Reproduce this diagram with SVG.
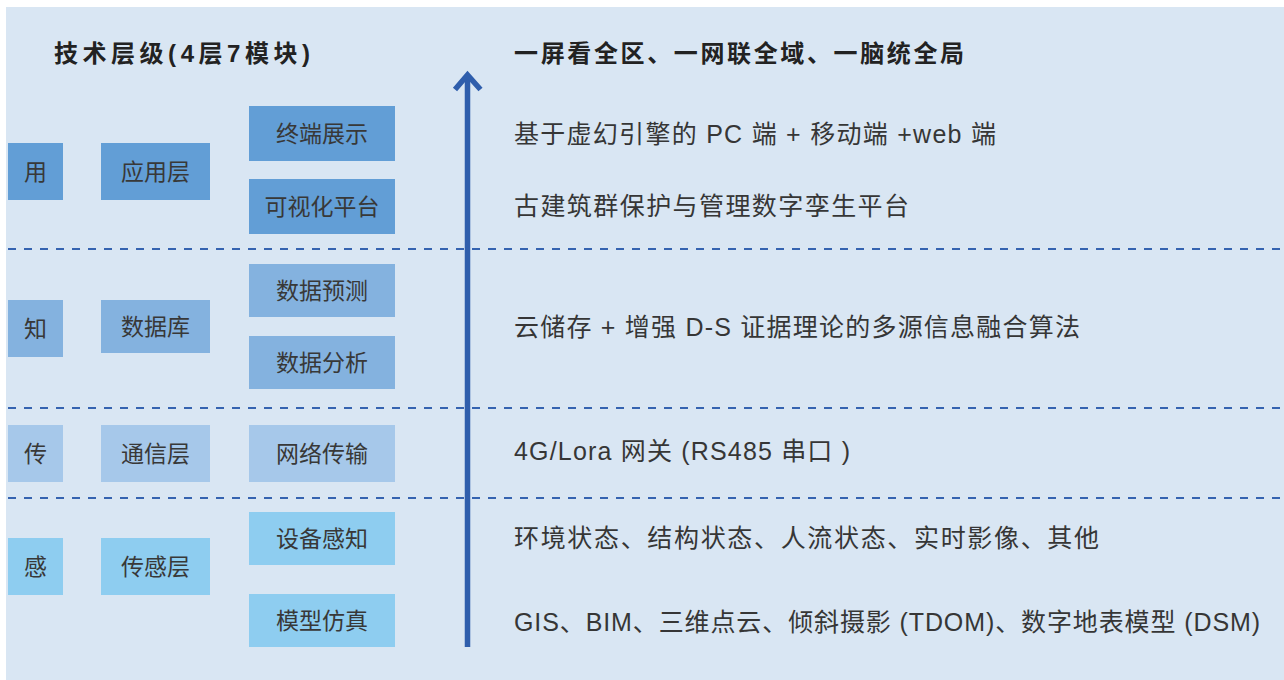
<svg xmlns="http://www.w3.org/2000/svg" width="1284" height="680" viewBox="0 0 1284 680">
<style>
.bt{font-family:"Liberation Sans","Noto Sans CJK SC",sans-serif;font-size:23px;fill:#383838;text-anchor:middle;dominant-baseline:central}
.rt{font-family:"Liberation Sans","Noto Sans CJK SC",sans-serif;font-size:25px;fill:#363636}
.hd{font-family:"Liberation Sans","Noto Sans CJK SC",sans-serif;font-size:24px;fill:#222;font-weight:bold}
.l1{fill:#629ed6}.l2{fill:#84b2df}.l3{fill:#a6c8ea}.l4{fill:#8ecdf0}
.sep{stroke:#3563b0;stroke-width:2.2;stroke-dasharray:8 8;fill:none}
.ar{stroke:#2f5eac;stroke-width:5.5;fill:none}
</style>
<rect x="6" y="7" width="1278" height="673" fill="#d9e6f3"/>
<g id="separators">
<line class="sep" x1="8" y1="249" x2="1284" y2="249"/>
<line class="sep" x1="8" y1="408" x2="1284" y2="408"/>
<line class="sep" x1="8" y1="498" x2="1284" y2="498"/>
</g>
<g id="connectors">
<line class="ar" x1="467.5" y1="78" x2="467.5" y2="647"/>
<polyline class="ar" points="455,89.5 467.5,75 480.5,89.5" stroke-linejoin="miter"/>
</g>
<g id="titles">
<text class="hd" x="54" y="61.5" textLength="256" lengthAdjust="spacing">技术层级(4层7模块)</text>
<text class="hd" x="514" y="62" textLength="450" lengthAdjust="spacing" style="font-weight:600">一屏看全区、一网联全域、一脑统全局</text>
</g>
<g id="n-yong"><rect class="l1" x="8" y="143" width="55" height="57"/><text class="bt" x="35.5" y="171.5">用</text></g>
<g id="n-yingyongceng"><rect class="l1" x="101" y="143" width="109" height="57"/><text class="bt" x="155.5" y="171.5">应用层</text></g>
<g id="n-zhongduan"><rect class="l1" x="249" y="106" width="146" height="55"/><text class="bt" x="322" y="133.5">终端展示</text></g>
<g id="n-keshihua"><rect class="l1" x="249" y="179" width="146" height="55"/><text class="bt" x="322" y="206.5">可视化平台</text></g>
<g id="n-zhi"><rect class="l2" x="8" y="300" width="55" height="57"/><text class="bt" x="35.5" y="328.5">知</text></g>
<g id="n-shujuku"><rect class="l2" x="101" y="300" width="109" height="53"/><text class="bt" x="155.5" y="326.5">数据库</text></g>
<g id="n-yuce"><rect class="l2" x="249" y="264" width="146" height="53"/><text class="bt" x="322" y="290.5">数据预测</text></g>
<g id="n-fenxi"><rect class="l2" x="249" y="336" width="146" height="53"/><text class="bt" x="322" y="362.5">数据分析</text></g>
<g id="n-chuan"><rect class="l3" x="8" y="425" width="55" height="57"/><text class="bt" x="35.5" y="453.5">传</text></g>
<g id="n-tongxin"><rect class="l3" x="101" y="425" width="109" height="57"/><text class="bt" x="155.5" y="453.5">通信层</text></g>
<g id="n-wangluo"><rect class="l3" x="249" y="425" width="146" height="57"/><text class="bt" x="322" y="453.5">网络传输</text></g>
<g id="n-gan"><rect class="l4" x="8" y="538" width="55" height="57"/><text class="bt" x="35.5" y="566.5">感</text></g>
<g id="n-chuangan"><rect class="l4" x="101" y="538" width="109" height="57"/><text class="bt" x="155.5" y="566.5">传感层</text></g>
<g id="n-shebei"><rect class="l4" x="249" y="512" width="146" height="53"/><text class="bt" x="322" y="538.5">设备感知</text></g>
<g id="n-moxing"><rect class="l4" x="249" y="594" width="146" height="53"/><text class="bt" x="322" y="620.5">模型仿真</text></g>
<g id="descriptions">
<text class="rt" x="514" y="143" textLength="482" lengthAdjust="spacing">基于虚幻引擎的 PC 端 + 移动端 +web 端</text>
<text class="rt" x="514" y="215" textLength="395" lengthAdjust="spacing">古建筑群保护与管理数字孪生平台</text>
<text class="rt" x="514" y="336" textLength="566" lengthAdjust="spacing">云储存 + 增强 D-S 证据理论的多源信息融合算法</text>
<text class="rt" x="514" y="460" textLength="336" lengthAdjust="spacing">4G/Lora 网关 (RS485 串口 )</text>
<text class="rt" x="514" y="547" textLength="585" lengthAdjust="spacing">环境状态、结构状态、人流状态、实时影像、其他</text>
<text class="rt" x="514" y="631" textLength="746" lengthAdjust="spacing">GIS、BIM、三维点云、倾斜摄影 (TDOM)、数字地表模型 (DSM)</text>
</g>
</svg>
